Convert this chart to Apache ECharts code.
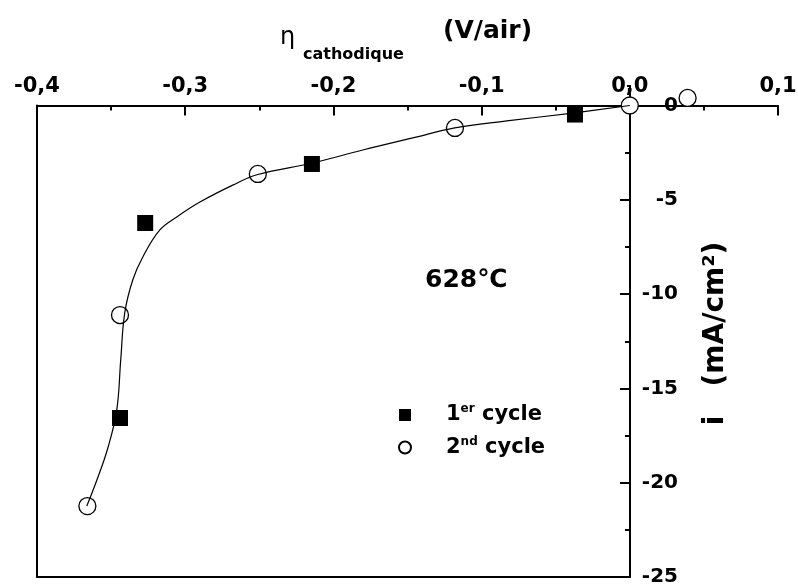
<!DOCTYPE html>
<html>
<head>
<meta charset="utf-8">
<script src="https://cdn.jsdelivr.net/npm/echarts@6/dist/echarts.min.js"></script>
<style>html,body{margin:0;padding:0;background:#fff}#c{width:798px;height:588px}</style>
</head>
<body>
<div id="c"></div>
<script>
// ---- data ----
const cycle1X = [-0.037, -0.2145, -0.327, -0.344];
const cycle1Y = [-0.48, -3.10, -6.23, -16.57];
const cycle2X = [0.039, 0, -0.118, -0.251, -0.344, -0.366];
const cycle2Y = [0.40, 0, -1.19, -3.63, -11.11, -21.24];
// fitted curve, points
const fitX = [0, -0.0385, -0.083, -0.1181, -0.1464, -0.1802, -0.2139, -0.251, -0.2679, -0.2901, -0.3057, -0.3171, -0.3286, -0.3354, -0.3408, -0.3435, -0.3462, -0.3522, -0.3596, -0.3664];
const fitY = [0, -0.40, -0.82, -1.19, -1.72, -2.36, -3.05, -3.66, -4.22, -5.12, -5.91, -6.60, -8.03, -9.25, -11.00, -13.49, -16.15, -18.16, -19.86, -21.24];
const xTicks = [-0.4, -0.3, -0.2, -0.1, 0, 0.1];
const xTickLabels = ['-0,4', '-0,3', '-0,2', '-0,1', '0,0', '0,1'];
const yTicks = [-25, -20, -15, -10, -5, 0];
const yTickLabels = ['-25', '-20', '-15', '-10', '-5', '0'];
const seriesNames = ['1er cycle', '2nd cycle'];
const legendRich = ['{a|1}{s|er}{n| cycle}', '{a|2}{s|nd}{n| cycle}'];

const FF = '"DejaVu Sans", "Liberation Sans", sans-serif';
const zip = (xs, ys) => xs.map((x, i) => [x, ys[i]]);
const lbl = (ticks, labels) => v => {
  const i = ticks.findIndex(t => Math.abs(t - v) < 1e-9);
  return i >= 0 ? labels[i] : '';
};
const yLbl = lbl(yTicks, yTickLabels);

const chart = echarts.init(document.getElementById('c'), null, {renderer: 'canvas'});
chart.setOption({
  animation: false,
  backgroundColor: '#fff',
  title: [
    {text: 'η', left: 280, top: 26, padding: 0, textStyle: {fontFamily: FF, fontSize: 24, fontWeight: 'normal', color: '#000'}},
    {text: 'cathodique', left: 303, top: 47, padding: 0, textStyle: {fontFamily: FF, fontSize: 16, fontWeight: 'bold', color: '#000'}},
    {text: '(V/air)', left: 443, top: 19, padding: 0, textStyle: {fontFamily: FF, fontSize: 25, fontWeight: 'bold', color: '#000'}},
    {text: '628℃', left: 425, top: 268, padding: 0, textStyle: {fontFamily: FF, fontSize: 25, fontWeight: 'bold', color: '#000'}}
  ],
  legend: {
    data: seriesNames,
    orient: 'vertical',
    left: 398, top: 403,
    padding: 0,
    itemGap: 10,
    itemWidth: 12, itemHeight: 12,
    formatter: name => legendRich[seriesNames.indexOf(name)],
    textStyle: {
      color: '#000',
      rich: {
        a: {fontFamily: FF, fontSize: 21, fontWeight: 'bold', color: '#000', lineHeight: 24, padding: [0, 0, 0, 30]},
        s: {fontFamily: FF, fontSize: 12, fontWeight: 'bold', color: '#000', verticalAlign: 'top', lineHeight: 12},
        n: {fontFamily: FF, fontSize: 21, fontWeight: 'bold', color: '#000', lineHeight: 24}
      }
    }
  },
  grid: [
    {left: 37, right: 20, top: 105.5, bottom: 11, containLabel: false, outerBoundsMode: 'none'},
    {left: 37, right: 168, top: 105.5, bottom: 11, containLabel: false, outerBoundsMode: 'none'}
  ],
  xAxis: [
    {
      gridIndex: 0, type: 'value', min: -0.4, max: 0.1, interval: 0.1, position: 'top',
      axisLine: {show: true, onZero: false, lineStyle: {color: '#000', width: 2}},
      axisTick: {show: true, inside: true, length: 10, lineStyle: {color: '#000', width: 2}},
      minorTick: {show: true, splitNumber: 2, length: 5, lineStyle: {color: '#000', width: 2}},
      axisLabel: {margin: 8, formatter: lbl(xTicks, xTickLabels), fontFamily: FF, fontSize: 21, fontWeight: 'bold', color: '#000'},
      splitLine: {show: false}
    },
    {
      gridIndex: 1, type: 'value', min: -0.4, max: 0, position: 'bottom',
      axisLine: {show: true, onZero: false, lineStyle: {color: '#000', width: 2}},
      axisTick: {show: false}, axisLabel: {show: false}, splitLine: {show: false}
    }
  ],
  yAxis: [
    {
      gridIndex: 0, type: 'value', min: -25, max: 0, show: false
    },
    {
      gridIndex: 1, type: 'value', min: -25, max: 0, position: 'left',
      axisLine: {show: true, onZero: false, lineStyle: {color: '#000', width: 2}},
      axisTick: {show: false}, axisLabel: {show: false}, splitLine: {show: false}
    },
    {
      gridIndex: 1, type: 'value', min: -25, max: 0, interval: 5, position: 'right',
      axisLine: {show: true, onZero: false, lineStyle: {color: '#000', width: 2}},
      axisTick: {show: true, inside: true, length: 10, lineStyle: {color: '#000', width: 2}},
      minorTick: {show: true, splitNumber: 2, length: 5, lineStyle: {color: '#000', width: 2}},
      axisLabel: {
        margin: 8,
        formatter: v => '{r|' + yLbl(v) + '}',
        rich: {r: {width: 40, align: 'right', fontFamily: FF, fontSize: 20, fontWeight: 'bold', color: '#000'}}
      },
      splitLine: {show: false}
    }
  ],
  graphic: [
    {type: 'polyline', shape: {points: [[627, 86], [630, 86], [630, 105]]}, style: {stroke: '#000', lineWidth: 2, fill: null}, z: 1},
    {type: 'text', x: 716, y: 333.5, rotation: Math.PI / 2,
     style: {text: 'i   (mA/cm²)', font: 'bold 28px "DejaVu Sans"', fill: '#000', textAlign: 'center', textVerticalAlign: 'middle'}}
  ],
  series: [
    {
      name: seriesNames[0], type: 'scatter', xAxisIndex: 0, yAxisIndex: 0, clip: false,
      symbol: 'rect', symbolSize: 16, itemStyle: {color: '#000', opacity: 1}, z: 3,
      data: zip(cycle1X, cycle1Y)
    },
    {
      name: seriesNames[1], type: 'scatter', xAxisIndex: 0, yAxisIndex: 0, clip: false,
      symbol: 'circle', symbolSize: 17, itemStyle: {color: '#fff', borderColor: '#000', borderWidth: 1.3, opacity: 1}, z: 3,
      data: zip(cycle2X, cycle2Y)
    },
    {
      name: 'fit', type: 'line', xAxisIndex: 0, yAxisIndex: 0, clip: false,
      smooth: 0.4, showSymbol: false, symbol: 'none', silent: true, z: 4,
      lineStyle: {color: '#000', width: 1.2},
      data: zip(fitX, fitY)
    }
  ]
});
</script>
</body>
</html>
